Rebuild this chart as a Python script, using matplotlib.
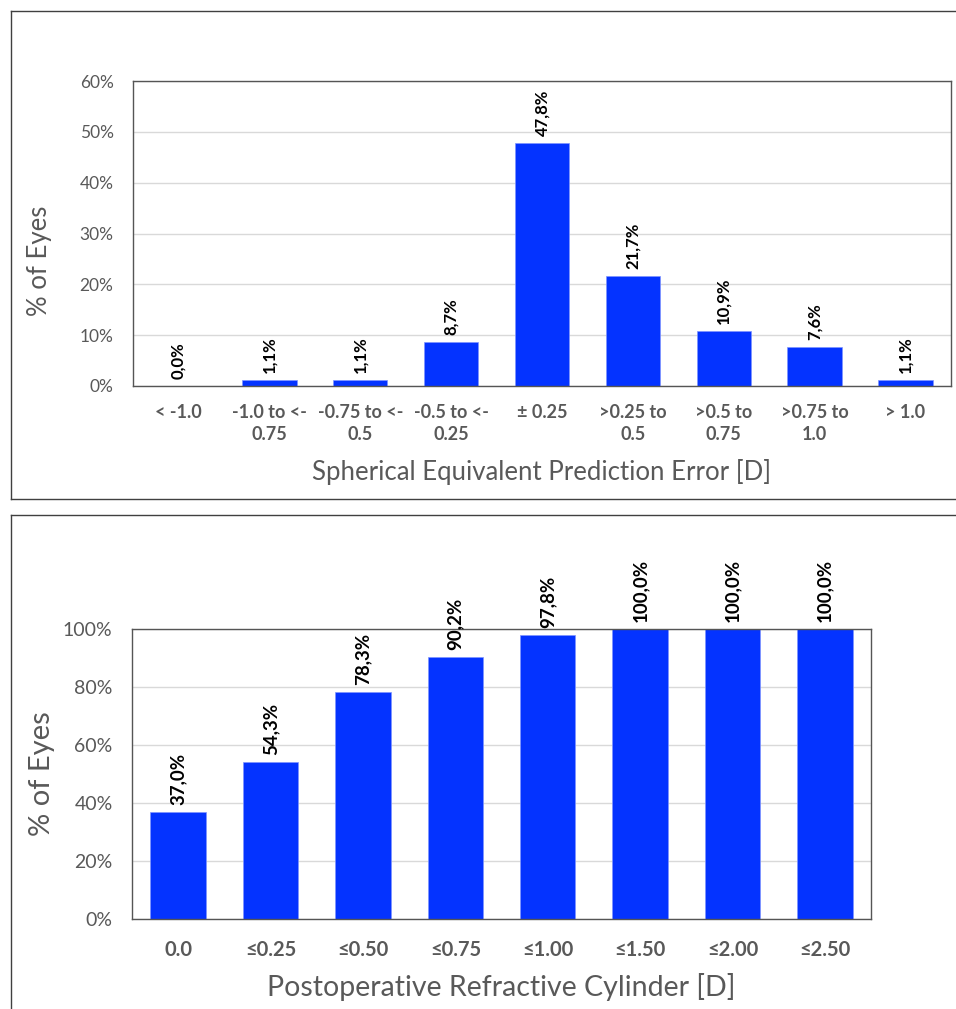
import matplotlib.pyplot as plt
from matplotlib.lines import Line2D

plt.rcParams['font.family'] = ['Lato', 'DejaVu Sans']

# top panel: spherical equivalent prediction error
se_labels = ["< -1.0", "-1.0 to <-\n0.75", "-0.75 to <-\n0.5", "-0.5 to <-\n0.25",
             "\u00b1 0.25", ">0.25 to\n0.5", ">0.5 to\n0.75", ">0.75 to\n1.0", "> 1.0"]
se_values = [0.0, 1.1, 1.1, 8.7, 47.8, 21.7, 10.9, 7.6, 1.1]

# bottom panel: cumulative postoperative cylinder
cyl_labels = ["0.0", "\u22640.25", "\u22640.50", "\u22640.75", "\u22641.00",
              "\u22641.50", "\u22642.00", "\u22642.50"]
cyl_values = [37.0, 54.3, 78.3, 90.2, 97.8, 100.0, 100.0, 100.0]

W, H = 956, 1009
BLUE = "#0433ff"
GRAY = "#595959"


def px_axes(fig, left, top, right, bottom):
    return fig.add_axes([left / W, 1 - bottom / H, (right - left) / W, (bottom - top) / H])


def style(ax, ymax, ystep, tick_size):
    ax.set_ylim(0, ymax)
    ax.set_yticks(range(0, ymax + 1, ystep))
    ax.set_yticklabels(["%d%%" % v for v in range(0, ymax + 1, ystep)])
    ax.grid(axis='y', color="#d9d9d9", linewidth=1)
    ax.set_axisbelow(True)
    for s in ax.spines.values():
        s.set_color("#555555")
        s.set_linewidth(1)
    ax.tick_params(axis='both', length=0)
    ax.tick_params(axis='y', labelsize=tick_size, labelcolor=GRAY, pad=14)


def label_bars(ax, xs, vals, size):
    for x, v in zip(xs, vals):
        ax.annotate(("%.1f%%" % v).replace(".", ","), (x, v), xytext=(0, 5),
                    textcoords='offset points', rotation=90, ha='center', va='bottom',
                    fontsize=size, fontweight='bold', color='black', annotation_clip=False)


fig = plt.figure(figsize=(W / 100, H / 100), dpi=100)

# panel borders
for xs, ys in [([11, 960], [11, 11]), ([11, 11], [11, 499]), ([11, 960], [499, 499]),
               ([11, 960], [515, 515]), ([11, 11], [515, 1015])]:
    fig.add_artist(Line2D([x / W for x in xs], [1 - y / H for y in ys],
                          color="#404040", linewidth=1))

ax1 = px_axes(fig, 133, 81, 951, 386)
x1 = range(len(se_values))
ax1.bar(x1, se_values, width=0.6, color=BLUE, edgecolor="#7f95ff", linewidth=0.5)
ax1.set_xlim(-0.5, len(se_values) - 0.5)
style(ax1, 60, 10, 12.5)
ax1.set_xticks(list(x1))
ax1.set_xticklabels(se_labels, fontsize=13, fontweight='bold', color=GRAY, linespacing=1.35)
ax1.tick_params(axis='x', pad=13)
label_bars(ax1, x1, se_values, 12)
ax1.set_xlabel("Spherical Equivalent Prediction Error [D]", fontsize=18.5, color=GRAY, va='center')
ax1.xaxis.set_label_coords(0.5, -0.282)
ax1.set_ylabel("% of Eyes", fontsize=18.5, color=GRAY)
ax1.yaxis.set_label_coords(-0.099, 0.41)

ax2 = px_axes(fig, 132, 629, 871, 919)
x2 = range(len(cyl_values))
ax2.bar(x2, cyl_values, width=0.6, color=BLUE, edgecolor="#7f95ff", linewidth=0.5)
ax2.set_xlim(-0.5, len(cyl_values) - 0.5)
style(ax2, 100, 20, 14)
ax2.set_xticks(list(x2))
ax2.set_xticklabels(cyl_labels, fontsize=14.5, fontweight='bold', color=GRAY)
ax2.tick_params(axis='x', pad=15)
label_bars(ax2, x2, cyl_values, 13.5)
ax2.set_xlabel("Postoperative Refractive Cylinder [D]", fontsize=20.5, color=GRAY, va='center')
ax2.xaxis.set_label_coords(0.5, -0.234)
ax2.set_ylabel("% of Eyes", fontsize=21, color=GRAY)
ax2.yaxis.set_label_coords(-0.104, 0.5)

fig.savefig("out.png", dpi=100)
